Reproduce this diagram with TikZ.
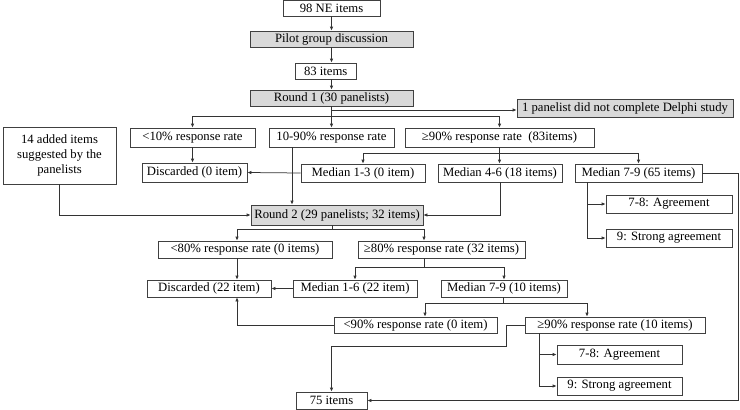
\documentclass[tikz,border=0pt]{standalone}
\usepackage{fontspec}
\setmainfont{Liberation Serif}
\usetikzlibrary{arrows.meta,calc}
\begin{document}
\begin{tikzpicture}[x=1pt,y=-1pt,
 box/.style={draw=black!75, line width=0.75pt, inner sep=0pt, font=\fontsize{12.7}{15}\selectfont, text=black},
 gbox/.style={box, fill=black!15},
 arr/.style={-{Latex[length=4pt,width=3.5pt]}, line width=0.75pt, draw=black!80},
 ln/.style={line width=0.75pt, draw=black!80}]
\useasboundingbox (0,0) rectangle (740,410);
% nodes
\node[box, minimum width=97pt, minimum height=16pt] (n98) at (331.5,8) {98 NE items};
\node[gbox, minimum width=163pt, minimum height=16pt] (pilot) at (331.5,39) {Pilot group discussion};
\node[box, minimum width=61pt, minimum height=16pt] (n83) at (325.7,71) {83 items};
\node[gbox, minimum width=163pt, minimum height=16pt] (r1) at (331.5,98) {Round 1 (30 panelists)};
\node[gbox, minimum width=216pt, minimum height=18pt] (onep) at (625,108) {1 panelist did not complete Delphi study};
\node[box, minimum width=125pt, minimum height=19pt] (lt10) at (192.5,137.5) {<10\% response rate};
\node[box, minimum width=125pt, minimum height=19pt] (mid) at (331.5,137.5) {10-90\% response rate};
\node[box, minimum width=189pt, minimum height=19pt] (ge90) at (499.5,137.5) {≥90\% response rate\ \ (83items)};
\node[box, minimum width=113pt, minimum height=57pt, align=center] (added) at (59.5,155.5) {14 added items\\suggested by the\\panelists};
\node[box, minimum width=105pt, minimum height=19pt] (disc0) at (194.5,172.5) {Discarded (0 item)};
\node[box, minimum width=124pt, minimum height=18pt] (med13) at (363,173) {Median 1-3 (0 item)};
\node[box, minimum width=124pt, minimum height=18pt] (med46) at (500,173) {Median 4-6 (18 items)};
\node[box, minimum width=127pt, minimum height=18pt] (med79) at (638.5,173) {Median 7-9 (65 items)};
\node[box, minimum width=126pt, minimum height=18pt] (agr1) at (669,204) {7-8: Agreement};
\node[box, minimum width=126pt, minimum height=18pt] (str1) at (669,238) {9: Strong agreement};
\node[gbox, minimum width=172pt, minimum height=20pt] (r2) at (337,215) {Round 2 (29 panelists; 32 items)};
\node[box, minimum width=174pt, minimum height=17pt] (lt80) at (245,249.5) {<80\% response rate (0 items)};
\node[box, minimum width=167pt, minimum height=17pt] (ge80) at (441.5,249.5) {≥80\% response rate (32 items)};
\node[box, minimum width=124pt, minimum height=17pt] (disc22) at (209,288.5) {Discarded (22 item)};
\node[box, minimum width=124pt, minimum height=17pt] (med16) at (355,288.5) {Median 1-6 (22 item)};
\node[box, minimum width=126pt, minimum height=17pt] (med79b) at (504,288.5) {Median 7-9 (10 items)};
\node[box, minimum width=163pt, minimum height=16pt] (lt90) at (415.5,325) {<90\% response rate (0 item)};
\node[box, minimum width=180pt, minimum height=16pt] (ge90b) at (615,325) {≥90\% response rate (10 items)};
\node[box, minimum width=125pt, minimum height=19pt] (agr2) at (619.5,354.5) {7-8: Agreement};
\node[box, minimum width=125pt, minimum height=18pt] (str2) at (619.5,386) {9: Strong agreement};
\node[box, minimum width=71pt, minimum height=17pt] (n75) at (331.5,400.5) {75 items};
% helper coordinates
\coordinate (j0) at (331.5,110);
\coordinate (j1) at (331.5,116);
\coordinate (j2) at (499.5,153);
\coordinate (X292) at (292,0);
\coordinate (X587) at (587,0);
\coordinate (j3) at (332,229.5);
\coordinate (X237) at (237,0);
\coordinate (X424) at (424,0);
\coordinate (j4) at (424,267);
\coordinate (j5) at (503,303);
\coordinate (X425) at (425,0);
\coordinate (X587b) at (587,0);
\coordinate (X506) at (506,0);
\coordinate (Y346) at (0,346);
\coordinate (X539) at (539,0);
% connectors
\draw[arr] (n98) -- (pilot);
\draw[arr] (pilot.south) -- (pilot.south |- n83.north);
\draw[arr] (r1.north |- n83.south) -- (r1.north);
\draw[arr] (r1.south) -- (mid.north);
\draw[arr] (j0) -- (j0 -| onep.west);
\draw[arr] (j1) -| (lt10.north);
\draw[arr] (j1) -| (ge90.north);
\draw[arr] (lt10.south) -- (lt10.south |- disc0.north);
\draw[arr] (ge90.south) -- (ge90.south |- med46.north);
\draw[arr] (j2) -| (med13.north);
\draw[arr] (j2) -| (med79.north);
\draw[arr] (med13.west) -- (disc0.east);
\draw[arr] (X292 |- mid.south) -- (X292 |- r2.north);
\draw[arr] (added.south) |- (r2.west);
\draw[arr] (med46.south) |- (r2.east);
\draw[arr] (X587 |- med79.south) |- (agr1.west);
\draw[arr] (X587 |- med79.south) |- (str1.west);
\draw[arr] (med79.east) -- ++(36,0) |- (n75.east);
\draw[ln] (j3 |- r2.south) -- (j3);
\draw[arr] (j3) -| (X237 |- lt80.north);
\draw[arr] (j3) -| (X424 |- ge80.north);
\draw[arr] (X237 |- lt80.south) -- (X237 |- disc22.north);
\draw[ln] (X424 |- ge80.south) -- (j4);
\draw[arr] (j4) -| (med16.north);
\draw[arr] (j4) -| (med79b.north);
\draw[arr] (med16.west) -- (disc22.east);
\draw[ln] (j5 |- med79b.south) -- (j5);
\draw[arr] (j5) -| (X425 |- lt90.north);
\draw[arr] (j5) -| (X587b |- ge90b.north);
\draw[arr] (lt90.west) -| (X237 |- disc22.south);
\draw[arr] (ge90b.west) -- (X506 |- ge90b.west) |- (n75.north |- Y346) -- (n75.north);
\draw[arr] (X539 |- ge90b.south) |- (agr2.west);
\draw[arr] (X539 |- ge90b.south) |- (str2.west);
\end{tikzpicture}
\end{document}
